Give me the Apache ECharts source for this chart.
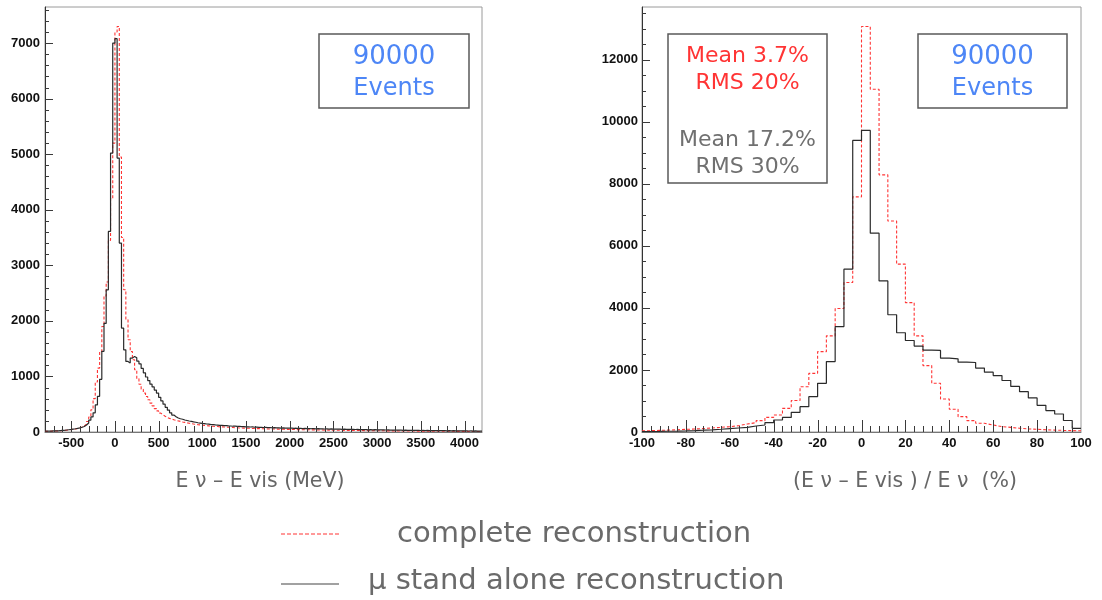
<!DOCTYPE html>
<html>
<head>
<meta charset="utf-8">
<title>Neutrino energy reconstruction</title>
<script src="https://cdn.jsdelivr.net/npm/echarts@6/dist/echarts.min.js"></script>
<style>
  html, body { margin: 0; padding: 0; background: #ffffff; }
  #chart { width: 1102px; height: 600px; }
</style>
</head>
<body>
<div id="chart"></div>
<script>
// ---- Histogram of E_nu - E_vis (MeV), 25 MeV bins starting at -800 ----
const energyBinStart = -800;
const energyBinWidth = 25;

// complete reconstruction
const energyComplete = [
  12, 13, 15, 16, 18, 20, 22, 25, 28, 32,
  40, 44, 50, 56, 63, 75, 90, 110, 140, 190,
  270, 400, 600, 900, 1150, 1450, 1900, 2450, 2700, 3450,
  4200, 5200, 7200, 7300, 4950, 3500, 2560, 2020, 1660, 1450,
  1300, 1120, 960, 860, 770, 700, 640, 580, 520, 470,
  420, 380, 340, 310, 285, 262, 245, 232, 220, 210,
  200, 191, 180, 173, 164, 158, 151, 143, 139, 131,
  128, 121, 119, 113, 111, 105, 104, 99, 98, 93,
  92, 89, 86, 85, 81, 80, 77, 76, 73, 73,
  70, 69, 67, 66, 64, 63, 61, 61, 59, 58,
  57, 55, 55, 53, 53, 51, 51, 49, 49, 47,
  47, 45, 45, 44, 44, 42, 42, 41, 41, 39,
  40, 38, 38, 37, 37, 35, 36, 34, 35, 33,
  33, 32, 32, 31, 31, 30, 30, 29, 29, 28,
  28, 27, 27, 26, 26, 25, 25, 24, 25, 23,
  24, 22, 23, 22, 22, 21, 21, 20, 21, 19,
  20, 19, 19, 18, 19, 17, 18, 17, 17, 16,
  17, 15, 16, 15, 16, 14, 15, 14, 15, 13,
  14, 13, 14, 12, 13, 12, 13, 11, 12, 11,
  12, 11, 11, 10, 11, 10, 10, 9, 10, 9
];

// mu stand alone reconstruction
const energyStandAlone = [
  14, 17, 16, 19, 22, 21, 25, 28, 31, 36,
  41, 46, 52, 58, 66, 74, 86, 99, 126, 162,
  212, 272, 345, 488, 642, 948, 1452, 1955, 2560, 3610,
  5020, 7000, 7080, 4930, 3400, 1870, 1480, 1270, 1240, 1330,
  1360, 1335, 1275, 1225, 1145, 1065, 990, 925, 860, 812,
  755, 700, 625, 560, 500, 445, 392, 345, 305, 276,
  252, 238, 230, 216, 207, 198, 192, 181, 176, 166,
  161, 155, 151, 144, 141, 134, 133, 127, 125, 120,
  119, 114, 115, 109, 108, 104, 106, 100, 101, 96,
  98, 93, 94, 90, 91, 86, 88, 84, 85, 81,
  82, 78, 80, 76, 77, 74, 75, 71, 73, 70,
  71, 68, 69, 66, 68, 64, 66, 62, 64, 61,
  63, 59, 61, 58, 59, 56, 58, 54, 56, 53,
  55, 52, 53, 50, 52, 48, 50, 47, 49, 46,
  47, 45, 46, 43, 45, 42, 43, 40, 42, 39,
  41, 38, 40, 37, 38, 36, 37, 34, 36, 33,
  35, 33, 34, 31, 33, 30, 31, 29, 30, 28,
  30, 27, 29, 26, 28, 25, 27, 24, 26, 24,
  25, 23, 24, 22, 23, 21, 23, 20, 22, 20,
  21, 19, 20, 18, 20, 17, 19, 17, 18, 16
];

// ---- Histogram of (E_nu - E_vis) / E_nu (%), 4 % bins starting at -100 ----
const ratioBinStart = -100;
const ratioBinWidth = 4;

const ratioComplete = [
  42, 52, 62, 72, 85, 98, 112, 130, 150, 172,
  204, 258, 301, 366, 473, 548, 763, 1015, 1460, 1890,
  2590, 3100, 3980, 4820, 7580, 13070, 11050, 8290, 6800, 5410,
  4170, 3100, 2140, 1570, 1065, 732, 495, 366, 280, 226,
  172, 150, 120, 100, 85, 72, 62, 52, 45, 38
];

const ratioStandAlone = [
  15, 18, 24, 30, 38, 47, 58, 71, 88, 108,
  129, 150, 194, 226, 301, 387, 470, 634, 817, 1140,
  1570, 2270, 3400, 5250, 9400, 9720, 6410, 4870, 3780, 3200,
  2950, 2770, 2640, 2630, 2380, 2360, 2250, 2240, 2060, 1930,
  1820, 1660, 1470, 1300, 1100, 860, 690, 580, 370, 120
];

// tick labels of the energy axis
const energyTickLabels = [-500, 0, 500, 1000, 1500, 2000, 2500, 3000, 3500, 4000];

// texts drawn in the boxes and legend
const eventsText = ['90000', 'Events'];
const completeStats = ['Mean 3.7%', 'RMS 20%'];
const standAloneStats = ['Mean 17.2%', 'RMS 30%'];
const legendNames = ['complete reconstruction', '\u03bc stand alone reconstruction'];

// turn bin contents into step points at the left bin edges (plus the closing edge)
function histPoints(start, width, values) {
  const pts = values.map((v, i) => [start + i * width, v]);
  pts.push([start + values.length * width, values[values.length - 1]]);
  return pts;
}

const RED = '#ff3434';
const DARK = '#2a2a2a';
const BLUE = '#4d86f6';
const TICK_COLOR = '#3a3a3a';
const TICK_FONT = { fontFamily: 'Liberation Sans', fontWeight: 'bold', fontSize: 13, color: '#111' };

const chart = echarts.init(document.getElementById('chart'), null, { renderer: 'canvas' });

const gridL = { left: 45, top: 7, width: 437, height: 425 };
const gridR = { left: 642, top: 7, width: 439, height: 425 };

function histSeries(xi, yi, data, dashed) {
  return {
    type: 'line',
    xAxisIndex: xi,
    yAxisIndex: yi,
    step: 'end',
    showSymbol: false,
    symbol: 'none',
    animation: false,
    silent: true,
    data: data,
    lineStyle: dashed
      ? { color: RED, width: 1.1, type: [3, 2] }
      : { color: DARK, width: 1.2 }
  };
}

function boxText(x, y, text, color, size) {
  return {
    type: 'text',
    x: x, y: y,
    style: {
      text: text, fill: color,
      font: size + 'px "DejaVu Sans"',
      align: 'center', verticalAlign: 'middle'
    },
    z: 20
  };
}

function boxRect(x, y, w, h) {
  return {
    type: 'rect',
    shape: { x: x, y: y, width: w, height: h },
    style: { fill: '#ffffff', stroke: '#5a5a5a', lineWidth: 1.5 },
    z: 15
  };
}

const baseGraphic = [
  // event count boxes
  boxRect(319, 34, 150, 74),
  boxText(394, 57, eventsText[0], BLUE, 26),
  boxText(394, 89, eventsText[1], BLUE, 24),
  boxRect(918, 34, 149, 74),
  boxText(992.5, 57, eventsText[0], BLUE, 26),
  boxText(992.5, 89, eventsText[1], BLUE, 24),
  // statistics box
  boxRect(668, 34, 159, 149),
  boxText(747.5, 56, completeStats[0], RED, 22),
  boxText(747.5, 83, completeStats[1], RED, 22),
  boxText(747.5, 140, standAloneStats[0], '#707070', 22),
  boxText(747.5, 167, standAloneStats[1], '#707070', 22),
  // axis titles
  boxText(260, 482, 'E \u03bd \u2013 E vis (MeV)', '#666666', 20.5),
  boxText(905, 482, '(E \u03bd \u2013 E vis ) / E \u03bd  (%)', '#666666', 20.5),
  // legend
  {
    type: 'line', shape: { x1: 281, y1: 534, x2: 340, y2: 534 },
    style: { stroke: RED, lineWidth: 1.2, lineDash: [4, 2] }, z: 20
  },
  {
    type: 'text', x: 397, y: 534,
    style: { text: legendNames[0], fill: '#6a6a6a', font: '29px "DejaVu Sans"', align: 'left', verticalAlign: 'middle' }
  },
  {
    type: 'line', shape: { x1: 281, y1: 584, x2: 339, y2: 584 },
    style: { stroke: '#444', lineWidth: 1.2 }, z: 20
  },
  {
    type: 'text', x: 368, y: 581,
    style: { text: legendNames[1], fill: '#6a6a6a', font: '29px "DejaVu Sans"', align: 'left', verticalAlign: 'middle' }
  }
];

const option = {
  animation: false,
  grid: [
    Object.assign({ show: true, borderColor: '#9a9a9a', borderWidth: 1, backgroundColor: 'transparent' }, gridL),
    Object.assign({ show: true, borderColor: '#9a9a9a', borderWidth: 1, backgroundColor: 'transparent' }, gridR)
  ],
  xAxis: [
    {
      gridIndex: 0, type: 'value', position: 'bottom',
      min: energyBinStart, max: 4200,
      axisLine: { show: true, onZero: false, lineStyle: { color: '#777', width: 1 } },
      axisTick: { show: false },
      axisLabel: Object.assign({ customValues: energyTickLabels, margin: 5, formatter: v => String(v) }, TICK_FONT),
      splitLine: { show: false }
    },
    {
      gridIndex: 1, type: 'value', position: 'bottom',
      min: ratioBinStart, max: 100, interval: 20,
      axisLine: { show: true, onZero: false, lineStyle: { color: '#777', width: 1 } },
      axisTick: { show: false },
      axisLabel: Object.assign({ margin: 5, formatter: v => String(v), showMinLabel: true, showMaxLabel: true }, TICK_FONT),
      splitLine: { show: false }
    }
  ],
  yAxis: [
    {
      gridIndex: 0, type: 'value', position: 'left',
      min: 0, max: 7650, interval: 1000,
      axisLine: { show: true, onZero: false, lineStyle: { color: '#333', width: 1 } },
      axisTick: { show: false },
      axisLabel: Object.assign({ margin: 5, showMaxLabel: false, formatter: v => String(v) }, TICK_FONT),
      splitLine: { show: false }
    },
    {
      gridIndex: 1, type: 'value', position: 'left',
      min: 0, max: 13700, interval: 2000,
      axisLine: { show: true, onZero: false, lineStyle: { color: '#333', width: 1 } },
      axisTick: { show: false },
      axisLabel: Object.assign({ margin: 4, showMaxLabel: false, formatter: v => String(v) }, TICK_FONT),
      splitLine: { show: false }
    }
  ],
  series: [
    histSeries(0, 0, histPoints(energyBinStart, energyBinWidth, energyComplete), true),
    histSeries(0, 0, histPoints(energyBinStart, energyBinWidth, energyStandAlone), false),
    histSeries(1, 1, histPoints(ratioBinStart, ratioBinWidth, ratioComplete), true),
    histSeries(1, 1, histPoints(ratioBinStart, ratioBinWidth, ratioStandAlone), false)
  ],
  graphic: baseGraphic
};

chart.setOption(option);

// Inward tick marks, placed through the axes' own value-to-pixel mapping.
// Each tick is a 1px filled bar: major ticks every `major`, minor ticks every `step`.
function axisTicks(axisKey, axisIndex, grid, from, to, step, major, majorLen, minorLen) {
  const out = [];
  const n = Math.round((to - from) / step);
  const finder = {};
  finder[axisKey] = axisIndex;
  for (let i = 0; i <= n; i++) {
    const v = from + i * step;
    const isMajor = Math.abs(((v % major) + major) % major) < 1e-6;
    const len = isMajor ? majorLen : minorLen;
    const px = Math.round(chart.convertToPixel(finder, v));
    if (axisKey === 'xAxisIndex') {
      const base = grid.top + grid.height;
      out.push({ type: 'rect', silent: true, z: 10,
        shape: { x: px, y: base - len, width: 1, height: len },
        style: { fill: TICK_COLOR } });
    } else {
      out.push({ type: 'rect', silent: true, z: 10,
        shape: { x: grid.left, y: px, width: len, height: 1 },
        style: { fill: TICK_COLOR } });
    }
  }
  return out;
}

const tickGraphic = []
  .concat(axisTicks('xAxisIndex', 0, gridL, -700, 4100, 100, 500, 11, 6))
  .concat(axisTicks('yAxisIndex', 0, gridL, 200, 7600, 200, 1000, 8, 4))
  .concat(axisTicks('xAxisIndex', 1, gridR, -96, 96, 4, 20, 12, 6))
  .concat(axisTicks('yAxisIndex', 1, gridR, 500, 13500, 500, 2000, 8, 4));

chart.setOption({ graphic: baseGraphic.concat(tickGraphic) });
</script>
</body>
</html>
